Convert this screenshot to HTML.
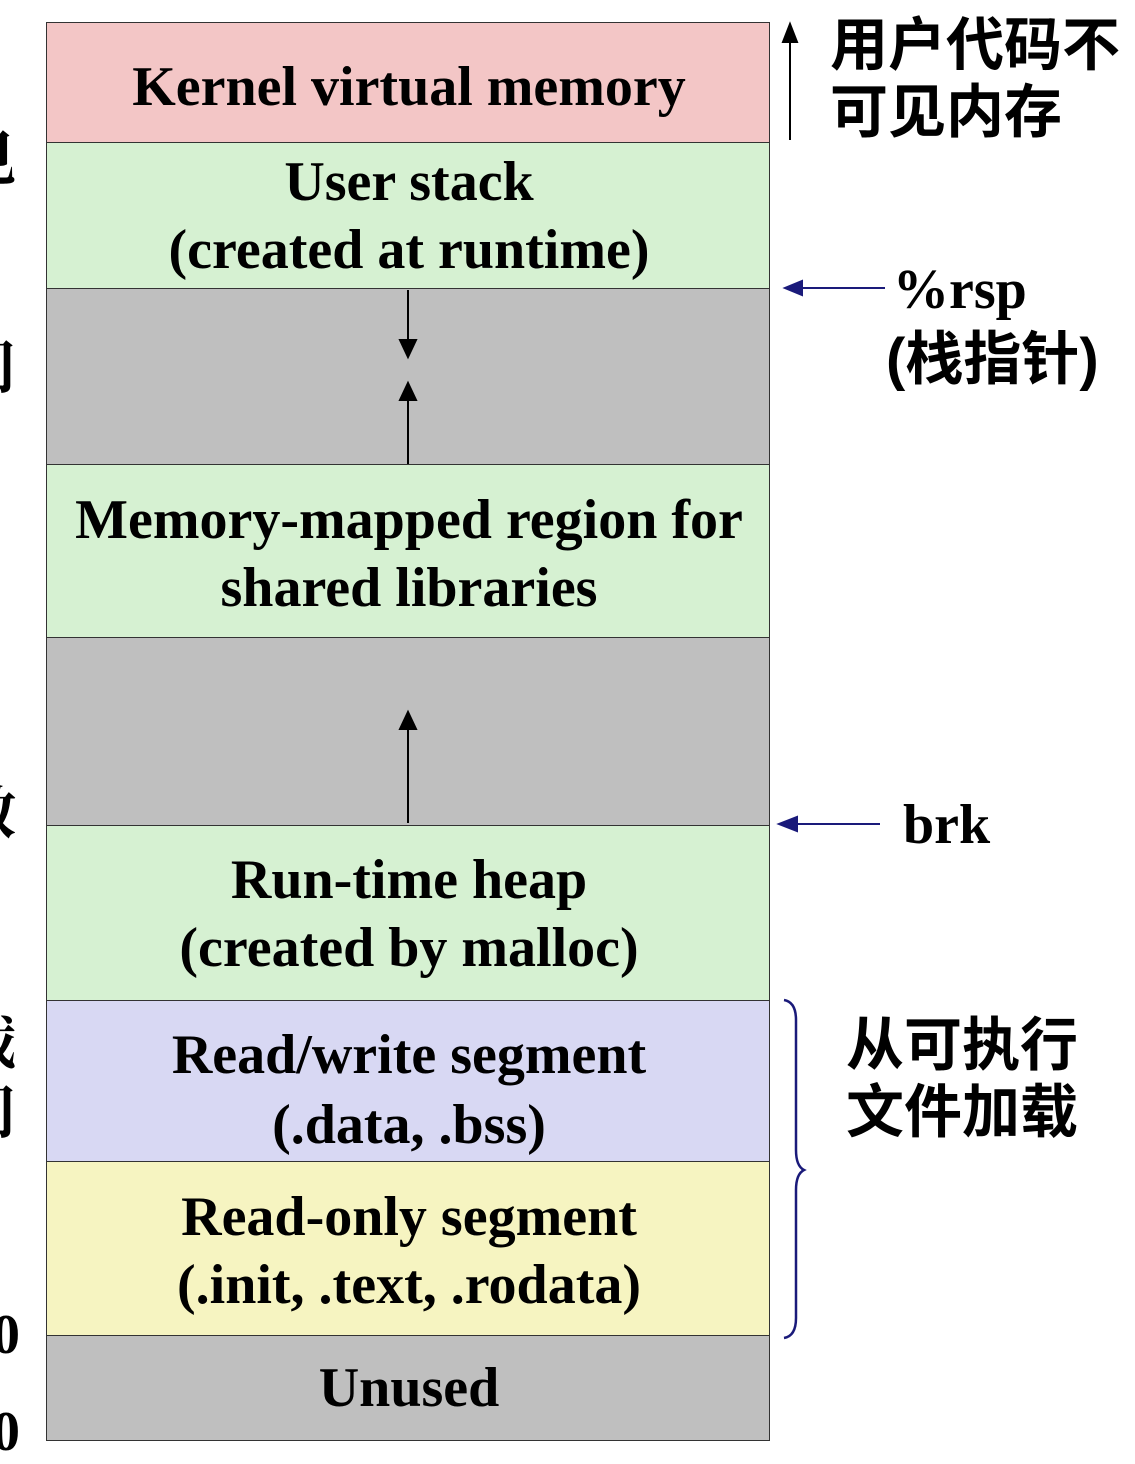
<!DOCTYPE html>
<html><head><meta charset="utf-8"><style>
body{margin:0;width:1135px;height:1444px;background:#fff;position:relative;overflow:hidden;font-family:"Liberation Serif",serif;}
.r{position:absolute;left:46px;width:724px;border:1.5px solid #333;box-sizing:border-box;}
.l{position:absolute;left:46px;width:726px;text-align:center;font-weight:bold;font-size:56px;line-height:64px;height:64px;color:#000;white-space:nowrap;}
.c{position:absolute;font-family:"Liberation Sans","Noto Sans CJK SC",sans-serif;font-weight:bold;font-size:58px;line-height:67px;white-space:nowrap;}
.e{position:absolute;font-weight:bold;font-size:56px;line-height:64px;white-space:nowrap;}
</style></head><body>
<div class="r" style="top:22px;height:121px;background:#f3c6c6"></div>
<div class="r" style="top:142px;height:147px;background:#d6f1d2"></div>
<div class="r" style="top:288px;height:177px;background:#bfbfbf"></div>
<div class="r" style="top:464px;height:174px;background:#d6f1d2"></div>
<div class="r" style="top:637px;height:189px;background:#bfbfbf"></div>
<div class="r" style="top:825px;height:176px;background:#d6f1d2"></div>
<div class="r" style="top:1000px;height:162px;background:#d8d8f3"></div>
<div class="r" style="top:1161px;height:175px;background:#f6f4c1"></div>
<div class="r" style="top:1335px;height:106px;background:#bfbfbf"></div>

<div class="l" style="top:55px">Kernel virtual memory</div>
<div class="l" style="top:150px">User stack</div>
<div class="l" style="top:218px">(created at runtime)</div>
<div class="l" style="top:488px">Memory-mapped region for</div>
<div class="l" style="top:556px">shared libraries</div>
<div class="l" style="top:848px">Run-time heap</div>
<div class="l" style="top:916px">(created by malloc)</div>
<div class="l" style="top:1023px">Read/write segment</div>
<div class="l" style="top:1093px">(.data, .bss)</div>
<div class="l" style="top:1185px">Read-only segment</div>
<div class="l" style="top:1253px">(.init, .text, .rodata)</div>
<div class="l" style="top:1356px">Unused</div>

<svg width="1135" height="1444" style="position:absolute;left:0;top:0">
<g stroke="#000" stroke-width="2" fill="#000">
<line x1="408" y1="290" x2="408" y2="344"/><polygon points="400,340 416,340 408,357"/>
<line x1="408" y1="464" x2="408" y2="396"/><polygon points="400,400 416,400 408,383"/>
<line x1="408" y1="823" x2="408" y2="725"/><polygon points="400,729 416,729 408,712"/>
<line x1="790" y1="140" x2="790" y2="38"/><polygon points="783,42 797,42 790,24"/>
</g>
<g stroke="#1a1a7a" stroke-width="2" fill="#1a1a7a">
<line x1="885" y1="288" x2="800" y2="288"/><polygon points="802,281 802,295 785,288"/>
<line x1="880" y1="824" x2="795" y2="824"/><polygon points="797,817 797,831 779,824"/>
</g>
<path d="M784,1000 Q796,1002 796,1020 L796,1150 Q796,1166 804,1170 Q796,1174 796,1190 L796,1318 Q796,1336 784,1338" fill="none" stroke="#1a1a7a" stroke-width="2.5"/>
</svg>

<div class="c" style="left:830px;top:12px">用户代码不</div>
<div class="c" style="left:830px;top:79px">可见内存</div>
<div class="e" style="left:893px;top:258px">%rsp</div>
<div class="c" style="left:886px;top:326px">(栈指针)</div>
<div class="e" style="left:903px;top:793px">brk</div>
<div class="c" style="left:846px;top:1012px">从可执行</div>
<div class="c" style="left:846px;top:1079px">文件加载</div>

<div class="c" style="left:-42px;top:122px;font-family:'Noto Serif CJK SC',serif">见</div>
<div class="c" style="left:-42px;top:330px;font-family:'Noto Serif CJK SC',serif">间</div>
<div class="c" style="left:-42px;top:775px;font-family:'Noto Serif CJK SC',serif">数</div>
<div class="c" style="left:-42px;top:1005px;font-family:'Noto Serif CJK SC',serif">载</div>
<div class="c" style="left:-42px;top:1075px;font-family:'Noto Serif CJK SC',serif">间</div>
<div class="e" style="left:-8px;top:1303px">0</div>
<div class="e" style="left:-8px;top:1400px">0</div>
</body></html>
